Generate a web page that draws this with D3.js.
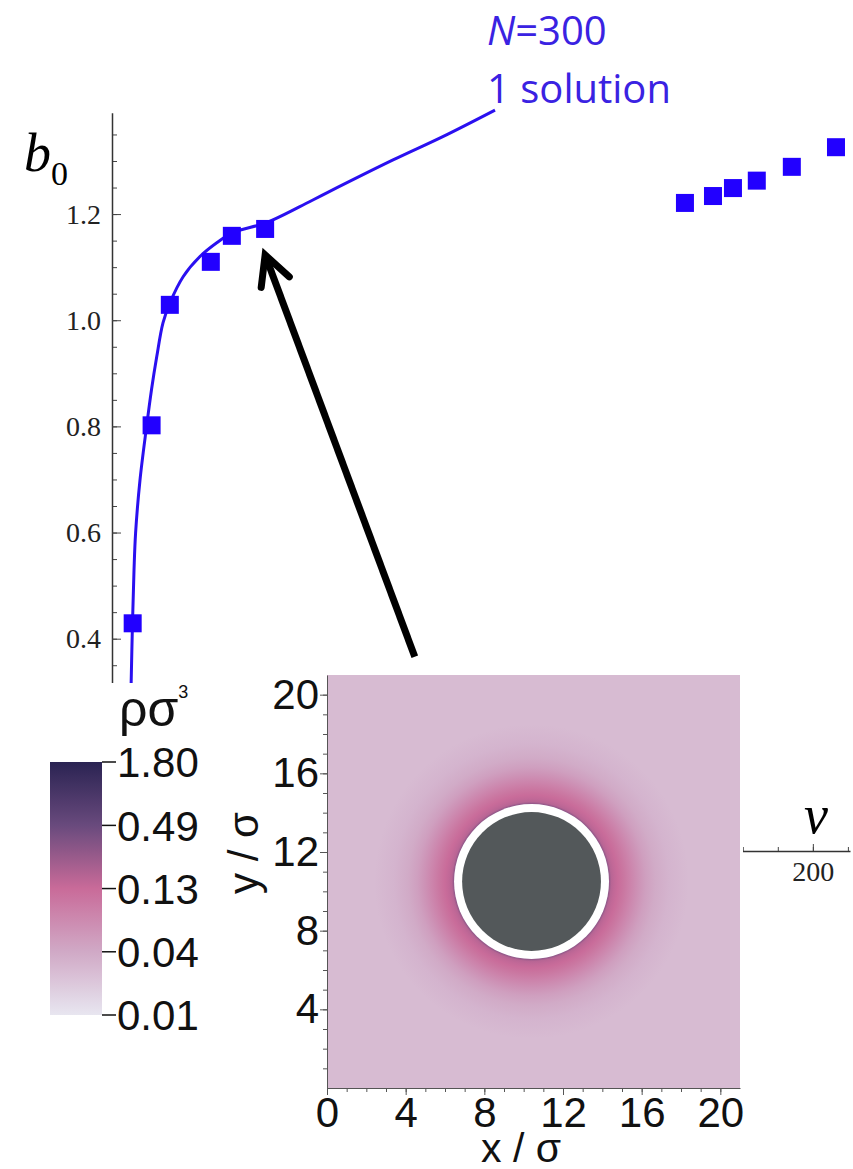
<!DOCTYPE html>
<html>
<head>
<meta charset="utf-8">
<script src="https://cdn.jsdelivr.net/npm/d3@7"></script>
<style>
body{margin:0;background:#fff}
svg{display:block}
</style>
</head>
<body>
<script>
let width = 853, height = 1169;

// main plot: b0 against nu
let curveNu = [5.42, 5.85, 6.28, 6.73, 7.99, 9.85, 11.27, 12.76, 14.55, 16.55, 20.3, 25.1, 29.9, 34.5, 44.1, 53.6, 61.3, 80.2, 94.4, 109.3];
let curveB0 = [0.303, 0.430, 0.529, 0.599, 0.699, 0.799, 0.869, 0.931, 0.995, 1.033, 1.082, 1.120, 1.146, 1.165, 1.184, 1.214, 1.240, 1.302, 1.346, 1.396];
let pointNu = [5.9, 11.3, 16.5, 28.2, 34.2, 43.7, 163.5, 171.5, 177.2, 184.0, 194.0, 206.6];
let pointB0 = [0.429, 0.802, 1.029, 1.110, 1.159, 1.172, 1.221, 1.234, 1.249, 1.263, 1.289, 1.326];
let yTicks = [0, 0.2, 0.4, 0.6, 0.8, 1.0, 1.2];
let xTicks = [50, 100, 150, 200];
let arrowFrom = [86.4, 0.366];
let arrowTo = [43.7, 1.123];

// inset: density map around the particle
let mapTicks = [0, 4, 8, 12, 16, 20];
let particle = {cx: 10.4, cy: 10.5, core: 3.53, gap: 3.94};
let profileR = [3.94, 4.05, 4.2, 4.4, 4.7, 5.0, 5.4, 5.8, 6.3, 7.0, 8.0];
let profileRho = [0.30, 0.17, 0.15, 0.13, 0.105, 0.082, 0.06, 0.045, 0.035, 0.029, 0.025];
let bulkRho = 0.025;
let cbStops = [0.01, 0.0366, 0.134, 0.49, 1.80];
let cbColors = ["#e8e6f0", "#d0a9c6", "#c96b99", "#694a7d", "#2a2352"];
let cbLabels = ["0.01", "0.04", "0.13", "0.49", "1.80"];

let serif = "'Liberation Serif','Times New Roman',serif";
let sans = "'Liberation Sans',Arial,sans-serif";
let blue = "#2a10f0";

let svg = d3.select("body").append("svg").attr("width", width).attr("height", height);

let defs = svg.append("defs");

// ---------- main chart ----------
let x = d3.scaleLinear().domain([0, 210.6]).range([112, 850]);
let y = d3.scaleLinear().domain([0, 1.391]).range([851, 112.7]);

let main = svg.append("g");

// y axis, ticks inward
main.append("g").attr("transform", `translate(${x(0)},0)`)
  .call(d3.axisLeft(y).tickValues(d3.range(0.05, 1.39, 0.05)).tickSizeInner(-5).tickSizeOuter(0).tickFormat(""))
  .call(g => g.select(".domain").remove())
  .selectAll("line").attr("stroke", "#444");
let yAx = main.append("g").attr("transform", `translate(${x(0)},0)`)
  .call(d3.axisLeft(y).tickValues(yTicks).tickSizeInner(-9).tickSizeOuter(0).tickPadding(11).tickFormat(d3.format(".1f")));
yAx.select(".domain").attr("stroke", "#333").attr("stroke-width", 1.5);
yAx.selectAll("line").attr("stroke", "#444");
yAx.selectAll("text").attr("font-family", serif).attr("font-size", 28).attr("fill", "#222");

// x axis, ticks inward
main.append("g").attr("transform", `translate(0,${y(0)})`)
  .call(d3.axisBottom(x).tickValues(d3.range(10, 211, 10)).tickSizeInner(-4).tickSizeOuter(0).tickFormat(""))
  .call(g => g.select(".domain").remove())
  .selectAll("line").attr("stroke", "#444");
let xAx = main.append("g").attr("transform", `translate(0,${y(0)})`)
  .call(d3.axisBottom(x).tickValues(xTicks).tickSizeInner(-7).tickSizeOuter(0).tickPadding(10).tickFormat(d3.format("d")));
xAx.select(".domain").attr("stroke", "#333").attr("stroke-width", 1.5);
xAx.selectAll("line").attr("stroke", "#444");
xAx.selectAll("text").attr("font-family", serif).attr("font-size", 28).attr("fill", "#222");

main.append("text").attr("x", 816).attr("y", 833).attr("text-anchor", "middle")
  .attr("font-family", serif).attr("font-style", "italic").attr("font-size", 54).text("ν");
let bl = main.append("text").attr("x", 24).attr("y", 171).attr("font-family", serif).attr("font-size", 54);
bl.append("tspan").attr("font-style", "italic").text("b");
bl.append("tspan").attr("dy", 14).attr("font-size", 34).text("0");

// fitted curve
let line = d3.line().x(d => x(d[0])).y(d => y(d[1])).curve(d3.curveCatmullRom.alpha(0.5));
main.append("path").datum(d3.zip(curveNu, curveB0))
  .attr("d", line).attr("fill", "none").attr("stroke", blue).attr("stroke-width", 3);

// squares
let sq = 18;
main.selectAll("rect.pt").data(d3.zip(pointNu, pointB0)).join("rect").attr("class", "pt")
  .attr("x", d => x(d[0]) - sq / 2).attr("y", d => y(d[1]) - sq / 2)
  .attr("width", sq).attr("height", sq).attr("fill", "#2200ff");

// label
let lab = main.append("text").attr("font-family", "'Open Sans','Noto Sans',sans-serif").attr("font-size", 40).attr("fill", "#3a22e2");
lab.append("tspan").attr("x", 487).attr("y", 45).attr("font-style", "italic").text("N");
lab.append("tspan").text("=300");
main.append("text").attr("x", 487).attr("y", 103).attr("font-family", "'Open Sans','Noto Sans',sans-serif")
  .attr("font-size", 40).attr("fill", "#3a22e2").text("1 solution");

// ---------- inset ----------
let inset = svg.append("g");
inset.append("rect").attr("x", 0).attr("y", 683).attr("width", 743).attr("height", height - 683).attr("fill", "#fff");

let hx = d3.scaleLinear().domain([0, 21]).range([327, 740]);
let hy = d3.scaleLinear().domain([0, 21]).range([1088, 675]);
let color = d3.scaleLog().domain(cbStops).range(cbColors).interpolate(d3.interpolateRgb).clamp(true);

// radial density profile as gradient
let rMax = profileR[profileR.length - 1];
let rg = defs.append("radialGradient").attr("id", "dens").attr("gradientUnits", "userSpaceOnUse")
  .attr("cx", hx(particle.cx)).attr("cy", hy(particle.cy)).attr("r", hx(rMax) - hx(0));
rg.append("stop").attr("offset", 0).attr("stop-color", color(profileRho[0]));
rg.selectAll("stop.p").data(d3.zip(profileR, profileRho)).join("stop").attr("class", "p")
  .attr("offset", d => d[0] / rMax).attr("stop-color", d => color(d[1]));

inset.append("rect").attr("x", hx(0)).attr("y", hy(21)).attr("width", hx(21) - hx(0)).attr("height", hy(0) - hy(21))
  .attr("fill", color(bulkRho));
inset.append("circle").attr("cx", hx(particle.cx)).attr("cy", hy(particle.cy)).attr("r", hx(rMax) - hx(0))
  .attr("fill", "url(#dens)");
inset.append("circle").attr("cx", hx(particle.cx)).attr("cy", hy(particle.cy)).attr("r", hx(particle.gap) - hx(0))
  .attr("fill", "#fff");
inset.append("circle").attr("cx", hx(particle.cx)).attr("cy", hy(particle.cy)).attr("r", hx(particle.core) - hx(0))
  .attr("fill", "#53585a");

// inset axes
function styleAx(g) {
  g.select(".domain").attr("stroke", "#555").attr("stroke-width", 1);
  g.selectAll("line").attr("stroke", "#555");
  g.selectAll("text").attr("font-family", sans).attr("font-size", 42).attr("fill", "#111");
}
inset.append("g").attr("transform", `translate(0,${hy(0)})`)
  .call(d3.axisBottom(hx).tickValues(d3.range(1, 21, 1)).tickSizeInner(4).tickSizeOuter(0).tickFormat(""))
  .call(g => g.select(".domain").remove()).selectAll("line").attr("stroke", "#555");
inset.append("g").attr("transform", `translate(0,${hy(0)})`)
  .call(d3.axisBottom(hx).tickValues(mapTicks).tickSizeInner(7).tickSizeOuter(0).tickPadding(2))
  .call(styleAx);
inset.append("g").attr("transform", `translate(${hx(0)},0)`)
  .call(d3.axisLeft(hy).tickValues(d3.range(1, 21, 1)).tickSizeInner(4).tickSizeOuter(0).tickFormat(""))
  .call(g => g.select(".domain").remove()).selectAll("line").attr("stroke", "#555");
inset.append("g").attr("transform", `translate(${hx(0)},0)`)
  .call(d3.axisLeft(hy).tickValues(mapTicks.slice(1)).tickSizeInner(7).tickSizeOuter(0).tickPadding(1))
  .call(styleAx);

inset.append("text").attr("x", 521).attr("y", 1162).attr("text-anchor", "middle")
  .attr("font-family", sans).attr("font-size", 41).attr("fill", "#111").text("x / σ");
inset.append("text").attr("transform", "translate(258,853) rotate(-90)").attr("text-anchor", "middle")
  .attr("font-family", sans).attr("font-size", 42).attr("fill", "#111").text("y / σ");

// colour bar
let cb = d3.scaleLog().domain([0.01, 1.80]).range([1015, 762]);
let lg = defs.append("linearGradient").attr("id", "cbar").attr("x1", 0).attr("y1", 1).attr("x2", 0).attr("y2", 0);
lg.selectAll("stop").data(d3.range(0, 1.0001, 0.05)).join("stop")
  .attr("offset", d => d)
  .attr("stop-color", d => color(cb.invert(1015 - d * (1015 - 762))));
inset.append("rect").attr("x", 50).attr("y", cb(1.80)).attr("width", 52).attr("height", cb(0.01) - cb(1.80))
  .attr("fill", "url(#cbar)");
inset.selectAll("line.cbt").data(cbStops).join("line").attr("class", "cbt")
  .attr("x1", 102).attr("x2", 116).attr("y1", d => cb(d)).attr("y2", d => cb(d))
  .attr("stroke", "#111").attr("stroke-width", 1.5);
inset.selectAll("text.cbl").data(cbStops).join("text").attr("class", "cbl")
  .attr("x", 117).attr("y", d => cb(d)).attr("dy", "0.36em")
  .attr("font-family", sans).attr("font-size", 42).attr("fill", "#111")
  .text((d, i) => cbLabels[i]);
let cbt = inset.append("text").attr("x", 119).attr("y", 726).attr("font-family", sans).attr("font-size", 50).attr("fill", "#111");
cbt.append("tspan").text("ρσ");
cbt.append("tspan").attr("dy", -28).attr("font-size", 18).text("3");

// ---------- arrow ----------
defs.append("marker").attr("id", "head").attr("markerUnits", "userSpaceOnUse")
  .attr("markerWidth", 80).attr("markerHeight", 80).attr("refX", 0).attr("refY", 0)
  .attr("orient", "auto").attr("overflow", "visible")
  .append("path").attr("d", "M-29,-15L0,0L-29,15").attr("fill", "none")
  .attr("stroke", "#000").attr("stroke-width", 7).attr("stroke-linecap", "round");
svg.append("line")
  .attr("x1", x(arrowFrom[0])).attr("y1", y(arrowFrom[1]))
  .attr("x2", x(arrowTo[0])).attr("y2", y(arrowTo[1]))
  .attr("stroke", "#000").attr("stroke-width", 7).attr("marker-end", "url(#head)");
</script>
</body>
</html>
